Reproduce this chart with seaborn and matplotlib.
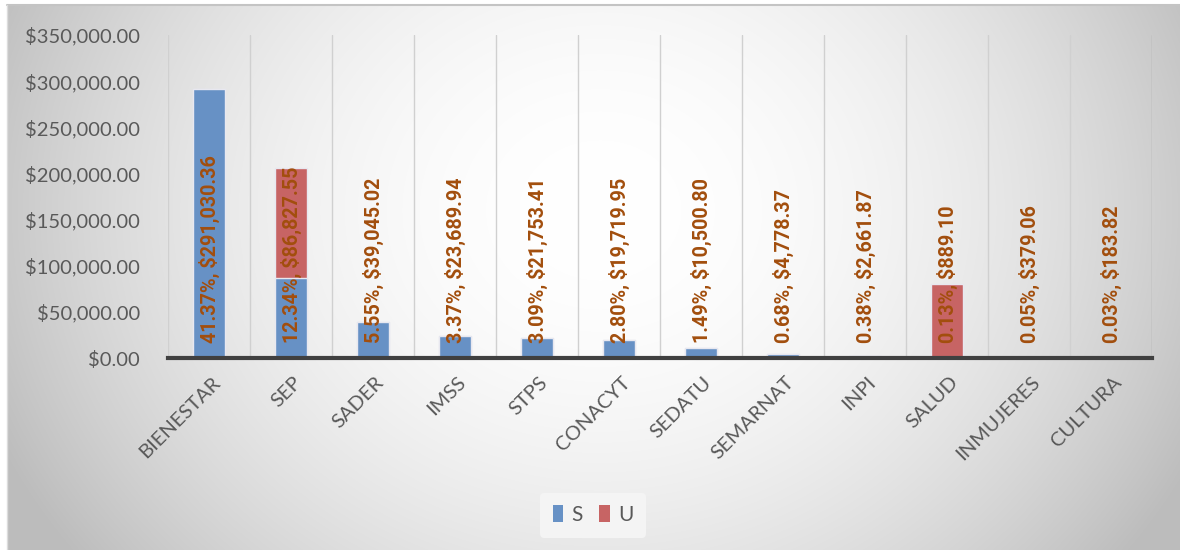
import numpy as np
import pandas as pd
import matplotlib
matplotlib.use("Agg")
import matplotlib.pyplot as plt
import matplotlib.transforms as mtransforms
from matplotlib.patches import Patch
import seaborn as sns

categories = ["BIENESTAR", "SEP", "SADER", "IMSS", "STPS", "CONACYT", "SEDATU",
              "SEMARNAT", "INPI", "SALUD", "INMUJERES", "CULTURA"]
s_values = [291030.36, 86827.55, 39045.02, 23689.94, 21753.41, 19719.95,
            10500.80, 4778.37, 2661.87, 889.10, 379.06, 183.82]
u_values = [0, 119500, 0, 0, 0, 0, 0, 0, 0, 79000, 0, 0]
pct_labels = ["41.37%", "12.34%", "5.55%", "3.37%", "3.09%", "2.80%", "1.49%",
              "0.68%", "0.38%", "0.13%", "0.05%", "0.03%"]
yticks = [0, 50000, 100000, 150000, 200000, 250000, 300000, 350000]

sns.set_theme(style="white")
plt.rcParams["font.family"] = ["Lato", "DejaVu Sans"]

W, H = 1180, 550
fig = plt.figure(figsize=(W / 100, H / 100), dpi=100, facecolor="white")

# background gradient (chart area from x=7, y=5 to the right/bottom edges)
x0, y0 = 7, 5
bg = fig.add_axes([x0 / W, 0, (W - x0) / W, (H - y0) / H], zorder=-10)
yy, xx = np.mgrid[y0:H, x0:W]
d = 6.0e-7 * (xx - 600) ** 2 + 8.0e-7 * (yy - 210) ** 2
val = np.clip(1.0 - d, 0.74, 1.0)
bg.imshow(np.dstack([val, val, val]), extent=[0, 1, 0, 1], aspect="auto",
          interpolation="bilinear")
bg.set_xlim(0, 1); bg.set_ylim(0, 1)
bg.axis("off")
fig.add_artist(plt.Line2D([x0 / W, 1], [1 - y0 / H, 1 - y0 / H],
                          color="#c4c4c4", lw=1.5, transform=fig.transFigure))
fig.add_artist(plt.Line2D([x0 / W, x0 / W], [0, 1 - y0 / H],
                          color="#dcdcdc", lw=1.0, transform=fig.transFigure))

ax = fig.add_axes([168 / W, 1 - 358 / H, (1152 - 168) / W, (358 - 35) / H])
ax.set_facecolor("none")

df = pd.DataFrame({"cat": categories, "S": s_values, "U": u_values})
df["total"] = df["S"] + df["U"]

blue = "#6791c5"
red = "#c76464"
sns.barplot(data=df, x="cat", y="total", color=red, saturation=1, width=0.39,
            edgecolor="#e8e8f0", linewidth=1, ax=ax, zorder=2)
sns.barplot(data=df, x="cat", y="S", color=blue, saturation=1, width=0.39,
            edgecolor="#e8e8f0", linewidth=1, ax=ax, zorder=3)

ax.set_ylim(0, 350000)
ax.set_xlim(-0.5, len(categories) - 0.5)
ax.set_yticks(yticks)
ax.set_yticklabels([f"${v:,.2f}" for v in yticks], color="#595959", fontsize=14.5)
ax.tick_params(axis="y", length=0, pad=20)
ax.tick_params(axis="x", length=0, pad=4)
ax.set_xlabel("")
ax.set_ylabel("")

for i in range(len(categories) + 1):
    ax.axvline(i - 0.5, color="#d0d0d0" if i < len(categories) else "#a8a8a8",
               lw=1, zorder=1)

for sp in ["top", "right", "left"]:
    ax.spines[sp].set_visible(False)
ax.spines["bottom"].set_color("#404040")
ax.spines["bottom"].set_linewidth(3)
ax.spines["bottom"].set_zorder(5)

offset = mtransforms.ScaledTranslation(2 / 100, -10 / 100, fig.dpi_scale_trans)
ax.set_xticks(range(len(categories)))
ax.set_xticklabels(categories, rotation=45, ha="right", rotation_mode="anchor",
                   color="#595959", fontsize=14.5)
for lab in ax.get_xticklabels():
    lab.set_transform(lab.get_transform() + offset)

for i, (p, s) in enumerate(zip(pct_labels, s_values)):
    ax.annotate(f"{p}, ${s:,.2f}", xy=(i, 0), xytext=(0, 11),
                textcoords="offset points", rotation=90, ha="center", va="bottom",
                color="#a24e0d", fontsize=14.2, fontweight="bold",
                family=["Roboto", "DejaVu Sans"], zorder=6)

handles = [Patch(facecolor=blue, edgecolor="none"), Patch(facecolor=red, edgecolor="none")]
leg = fig.legend(handles, ["S", "U"], loc="center", ncol=2,
                 bbox_to_anchor=(593 / W, 1 - 515 / H), frameon=True,
                 fontsize=15, handlelength=0.5, handleheight=0.9,
                 handletextpad=0.4, columnspacing=0.8, borderpad=0.6)
leg.get_frame().set_facecolor("#f4f4f4")
leg.get_frame().set_edgecolor("none")
leg.get_frame().set_alpha(1)
for t in leg.get_texts():
    t.set_color("#595959")

fig.savefig("out.png", dpi=100)
